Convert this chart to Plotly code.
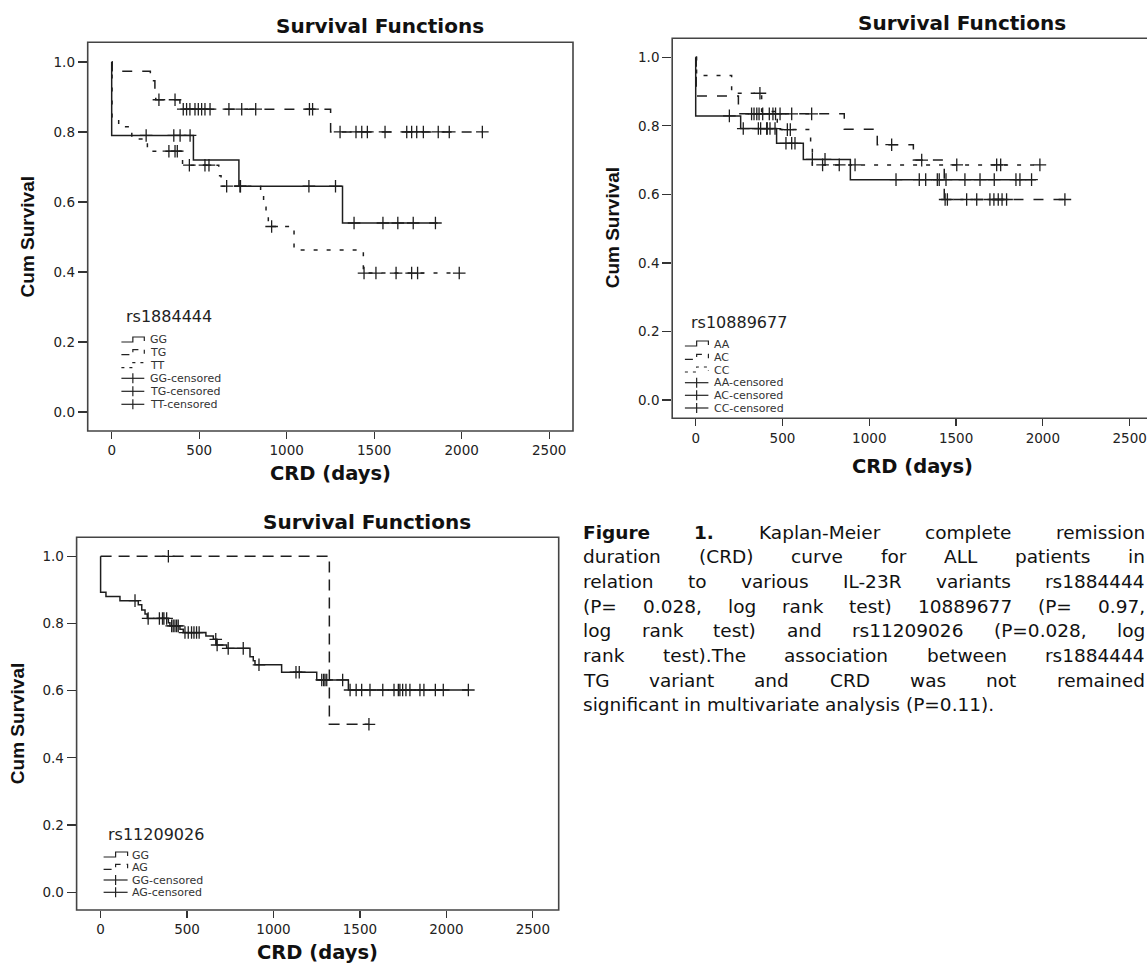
import plotly.graph_objects as go

W, H = 1147, 965

# ================= DATA =================
# Panel 1: rs1884444
p1_GG_event_days = [0, 467, 727, 1319]
p1_GG_surv = [0.79, 0.72, 0.645, 0.54]
p1_GG_censor_days = [197, 355, 391, 448, 736, 1127, 1279, 1385, 1550, 1635, 1723, 1850]
p1_GG_end = 1862

p1_TG_event_days = [3, 221, 247, 252, 390, 1251]
p1_TG_surv = [0.973, 0.946, 0.919, 0.892, 0.865, 0.80]
p1_TG_censor_days = [270, 362, 409, 428, 447, 476, 495, 514, 533, 562, 670, 743, 823, 1130,
                     1148, 1305, 1396, 1429, 1461, 1562, 1686, 1714, 1743, 1781, 1866, 1929, 2118]
p1_TG_end = 2118

p1_TT_event_days = [2, 40, 115, 204, 405, 612, 625, 851, 868, 882, 895, 1042, 1438]
p1_TT_surv = [0.842, 0.815, 0.78, 0.745, 0.705, 0.675, 0.645, 0.615, 0.585, 0.558, 0.53, 0.463, 0.397]
p1_TT_censor_days = [327, 362, 375, 444, 533, 556, 657, 733, 914, 1442, 1510, 1625, 1714, 1748, 1986]
p1_TT_end = 1986

# Panel 2: rs10889677
p2_AA_event_days = [0, 259, 466, 620, 891]
p2_AA_surv = [0.829, 0.792, 0.749, 0.702, 0.643]
p2_AA_censor_days = [194, 274, 361, 374, 409, 412, 428, 457, 520, 553, 572, 672, 745, 1154, 1288,
                     1325, 1392, 1403, 1442, 1551, 1638, 1720, 1845, 1868, 1935]
p2_AA_end = 1960

p2_AC_event_days = [3, 246, 856, 1046, 1254, 1432]
p2_AC_surv = [0.887, 0.835, 0.79, 0.745, 0.70, 0.585]
p2_AC_censor_days = [322, 336, 352, 365, 386, 424, 445, 460, 486, 553, 668, 1129, 1302, 1437, 1450,
                     1561, 1619, 1695, 1718, 1743, 1765, 1791, 2127]
p2_AC_end = 2127

p2_CC_event_days = [5, 207, 380, 470, 662, 672]
p2_CC_surv = [0.947, 0.895, 0.842, 0.789, 0.737, 0.686]
p2_CC_censor_days = [370, 528, 545, 731, 827, 918, 1504, 1734, 1757, 1983]
p2_CC_end = 1983

# Panel 3: rs11209026
p3_GG_event_days = [0, 31, 112, 218, 238, 257, 270, 392, 401, 459, 478, 609, 652, 671, 729, 864,
                    883, 893, 1047, 1250, 1433]
p3_GG_surv = [0.893, 0.88, 0.868, 0.856, 0.84, 0.828, 0.815, 0.802, 0.793, 0.783, 0.773, 0.763,
              0.753, 0.736, 0.726, 0.701, 0.689, 0.677, 0.655, 0.632, 0.602]
p3_GG_censor_days = [199, 275, 340, 358, 366, 382, 411, 420, 430, 440, 449, 488, 507, 526, 540, 555,
                     570, 666, 674, 738, 825, 916, 1130, 1149, 1279, 1290, 1298, 1308, 1400, 1443,
                     1478, 1510, 1558, 1632, 1697, 1722, 1731, 1747, 1766, 1789, 1847, 1870, 1936,
                     1982, 2127]
p3_GG_end = 2127

p3_AG_event_days = [1323]
p3_AG_surv = [0.5]
p3_AG_censor_days = [392, 1552]
p3_AG_end = 1552

x_tick_vals = [0, 500, 1000, 1500, 2000, 2500]
y_tick_vals = [0.0, 0.2, 0.4, 0.6, 0.8, 1.0]
y_tick_text = ["0.0", "0.2", "0.4", "0.6", "0.8", "1.0"]

p1_legend_title = "rs1884444"
p1_legend_labels = ["GG", "TG", "TT", "GG-censored", "TG-censored", "TT-censored"]
p2_legend_title = "rs10889677"
p2_legend_labels = ["AA", "AC", "CC", "AA-censored", "AC-censored", "CC-censored"]
p3_legend_title = "rs11209026"
p3_legend_labels = ["GG", "AG", "GG-censored", "AG-censored"]

caption_lines = [
    "Figure 1. Kaplan-Meier complete remission",
    "duration (CRD) curve for ALL patients in",
    "relation to various IL-23R variants rs1884444",
    "(P= 0.028, log rank test) 10889677 (P= 0.97,",
    "log rank test) and rs11209026 (P=0.028, log",
    "rank test).The association between rs1884444",
    "TG variant and CRD was not remained",
    "significant in multivariate analysis (P=0.11).",
]
caption_bold_words = ["Figure", "1."]

# ================= HELPERS =================
def fx(px):
    return px / W

def fy(py):
    return 1 - py / H

def step_xy(ev, sv, end):
    return [0] + list(ev) + [end], [1.0] + list(sv) + [sv[-1]]

def surv_at(t, ev, sv):
    s = 1.0
    for e, v in zip(ev, sv):
        if e <= t:
            s = v
    return s

LINE_COL = "#1e1e1e"
DASH_LONG = "10px,10px"
DASH_SHORT = "4px,9px"

fig = go.Figure()

def add_series(ev, sv, end, cens, dash, xa, ya):
    x, y = step_xy(ev, sv, end)
    fig.add_trace(go.Scatter(x=x, y=y, mode="lines", line=dict(shape="hv", color=LINE_COL, width=1.5, dash=dash),
                             xaxis=xa, yaxis=ya, showlegend=False, hoverinfo="skip"))
    cy = [surv_at(t, ev, sv) for t in cens]
    fig.add_trace(go.Scatter(x=cens, y=cy, mode="markers",
                             marker=dict(symbol="cross-thin", size=9, line=dict(width=1.3, color=LINE_COL)),
                             xaxis=xa, yaxis=ya, showlegend=False, hoverinfo="skip"))

add_series(p1_GG_event_days, p1_GG_surv, p1_GG_end, p1_GG_censor_days, "solid", "x", "y")
add_series(p1_TG_event_days, p1_TG_surv, p1_TG_end, p1_TG_censor_days, DASH_LONG, "x", "y")
add_series(p1_TT_event_days, p1_TT_surv, p1_TT_end, p1_TT_censor_days, DASH_SHORT, "x", "y")

add_series(p2_AA_event_days, p2_AA_surv, p2_AA_end, p2_AA_censor_days, "solid", "x2", "y2")
add_series(p2_AC_event_days, p2_AC_surv, p2_AC_end, p2_AC_censor_days, DASH_LONG, "x2", "y2")
add_series(p2_CC_event_days, p2_CC_surv, p2_CC_end, p2_CC_censor_days, DASH_SHORT, "x2", "y2")

add_series(p3_GG_event_days, p3_GG_surv, p3_GG_end, p3_GG_censor_days, "solid", "x3", "y3")
add_series(p3_AG_event_days, p3_AG_surv, p3_AG_end, p3_AG_censor_days, "11px,7px", "x3", "y3")

TICKFONT = dict(family="DejaVu Sans", size=13.5, color="#222")

def xaxis(dom, rng, anchor):
    return dict(domain=dom, range=rng, anchor=anchor, showgrid=False, zeroline=False, showline=False,
                ticks="outside", ticklen=7, tickwidth=1.2, tickcolor="#333", tickvals=x_tick_vals,
                tickfont=TICKFONT)

def yaxis(dom, rng, anchor):
    return dict(domain=dom, range=rng, anchor=anchor, showgrid=False, zeroline=False, showline=False,
                ticks="outside", ticklen=9, tickwidth=1.2, tickcolor="#333", tickvals=y_tick_vals,
                ticktext=y_tick_text, tickfont=TICKFONT)

panels = [
    dict(box=(87.7, 42.3, 573, 431), xr=[-137, 2636], yr=[-0.054, 1.056], title_x=380, title_y=25.7,
         ytitle_x=27.8, xtitle_y=473, dom_right=573),
    dict(box=(672.2, 38.3, 1153, 418.3), xr=[-135.4, 2600], yr=[-0.0534, 1.0554], title_x=962, title_y=22.7,
         ytitle_x=612, xtitle_y=466.7, dom_right=1147),
    dict(box=(76.6, 537.3, 558.7, 910), xr=[-138.8, 2649.5], yr=[-0.0527, 1.0565], title_x=367, title_y=521.7,
         ytitle_x=17.5, xtitle_y=952, dom_right=558.7),
]

layout_axes = {}
shapes = []
annotations = []
for i, p in enumerate(panels):
    l, t, r, b = p["box"]
    sfx = "" if i == 0 else str(i + 1)
    layout_axes["xaxis" + sfx] = xaxis([fx(l), fx(p["dom_right"])], p["xr"], "y" + sfx)
    layout_axes["yaxis" + sfx] = yaxis([fy(b), fy(t)], p["yr"], "x" + sfx)
    shapes.append(dict(type="rect", xref="paper", yref="paper", x0=fx(l), x1=fx(r), y0=fy(b), y1=fy(t),
                       line=dict(color="#444", width=1.6), fillcolor="rgba(0,0,0,0)", layer="above"))
    annotations.append(dict(text="Survival Functions", x=fx(p["title_x"]), y=fy(p["title_y"]), xref="paper",
                            yref="paper", showarrow=False, xanchor="center", yanchor="middle",
                            font=dict(family="DejaVu Sans", size=20, color="#111", weight="bold")))
    annotations.append(dict(text="CRD (days)", x=fx((l + r) / 2), y=fy(p["xtitle_y"]), xref="paper",
                            yref="paper", showarrow=False, xanchor="center", yanchor="middle",
                            font=dict(family="DejaVu Sans", size=19.5, color="#111", weight="bold")))
    annotations.append(dict(text="Cum Survival", x=fx(p["ytitle_x"]), y=fy((t + b) / 2), xref="paper",
                            yref="paper", showarrow=False, xanchor="center", yanchor="middle", textangle=-90,
                            font=dict(family="Liberation Sans", size=19, color="#111", weight="bold")))

# ---------- legends (drawn like SPSS legend boxes) ----------
def legend(title, title_x, title_y, labels, item_ys, gx0, gx1, tx, kinds):
    annotations.append(dict(text=title, x=fx(title_x), y=fy(title_y), xref="paper", yref="paper",
                            showarrow=False, xanchor="left", yanchor="middle",
                            font=dict(family="DejaVu Sans", size=16, color="#222")))
    for lab, yy, kind in zip(labels, item_ys, kinds):
        if kind in ("solid", "long", "short"):
            dash = {"solid": "solid", "long": "8px,6px", "short": "3px,5px"}[kind]
            xm = gx0 + (gx1 - gx0) * 0.5
            path = "M {} {} L {} {} L {} {} L {} {} L {} {}".format(
                fx(gx0), fy(yy + 2), fx(xm), fy(yy + 2), fx(xm), fy(yy - 3), fx(gx1), fy(yy - 3), fx(gx1), fy(yy + 1))
            shapes.append(dict(type="path", xref="paper", yref="paper", path=path,
                               line=dict(color="#222", width=1.2, dash=dash)))
        else:
            shapes.append(dict(type="line", xref="paper", yref="paper", x0=fx(gx0), x1=fx(gx1), y0=fy(yy), y1=fy(yy),
                               line=dict(color="#222", width=1.2)))
            xc = (gx0 + gx1) / 2
            shapes.append(dict(type="line", xref="paper", yref="paper", x0=fx(xc), x1=fx(xc), y0=fy(yy - 5),
                               y1=fy(yy + 5), line=dict(color="#222", width=1.2)))
        annotations.append(dict(text=lab, x=fx(tx), y=fy(yy), xref="paper", yref="paper", showarrow=False,
                                xanchor="left", yanchor="middle",
                                font=dict(family="DejaVu Sans", size=11, color="#333")))

legend(p1_legend_title, 124, 316, p1_legend_labels, [340, 352.7, 365.7, 378.3, 391.3, 404.3], 121.4, 144.3, 148,
       ["solid", "long", "short", "c", "c", "c"])
legend(p2_legend_title, 688.5, 322.7, p2_legend_labels, [344, 357.3, 370, 382.7, 395.3, 408], 684.9, 708.4, 712,
       ["solid", "long", "short", "c", "c", "c"])
legend(p3_legend_title, 105.5, 834, p3_legend_labels, [855, 867.3, 880, 892.3], 103.6, 127.6, 129.5,
       ["solid", "long", "c", "c"])

# ---------- caption (justified) ----------
REG = {" ": .318, "!": .401, "(": .390, ")": .390, ",": .318, "-": .361, ".": .318, "=": .838,
       "A": .684, "C": .698, "D": .770, "G": .776, "I": .295, "K": .656, "L": .557, "M": .863,
       "P": .603, "R": .695, "T": .611, "a": .613, "b": .635, "c": .550, "d": .635, "e": .615,
       "f": .352, "g": .635, "h": .634, "i": .278, "k": .579, "l": .278, "m": .974, "n": .634,
       "o": .612, "p": .635, "r": .411, "s": .521, "t": .392, "u": .634, "v": .592, "w": .818,
       "y": .592}
BOLD = {"F": .683, "i": .343, "g": .716, "u": .712, "r": .493, "e": .678, "1": .696, ".": .381}
CAP_SIZE = 18.5
CAP_L, CAP_R = 583, 1145
CAP_Y0, CAP_DY = 532, 24.7

def wwidth(word, bold):
    tbl = BOLD if bold else REG
    return sum(tbl.get(c, .636 if c.isdigit() else .6) for c in word) * CAP_SIZE

for li, line in enumerate(caption_lines):
    words = line.split(" ")
    bolds = [li == 0 and w in caption_bold_words for w in words]
    widths = [wwidth(w, b) for w, b in zip(words, bolds)]
    yy = CAP_Y0 + li * CAP_DY
    last = li == len(caption_lines) - 1
    if last:
        gap = REG[" "] * CAP_SIZE
    else:
        gap = (CAP_R - CAP_L - sum(widths)) / (len(words) - 1)
    x = CAP_L
    for wi, (w, b, ww) in enumerate(zip(words, bolds, widths)):
        if (not last) and wi == len(words) - 1:
            ax, anc = CAP_R, "right"
        else:
            ax, anc = x, "left"
        annotations.append(dict(text=w, x=fx(ax), y=fy(yy), xref="paper", yref="paper", showarrow=False,
                                xanchor=anc, yanchor="middle", borderpad=0, borderwidth=0,
                                font=dict(family="DejaVu Sans", size=CAP_SIZE, color="#111",
                                          weight="bold" if b else "normal")))
        x += ww + gap

fig.update_layout(width=W, height=H, margin=dict(l=0, r=0, t=0, b=0), paper_bgcolor="white",
                  plot_bgcolor="white", showlegend=False, shapes=shapes, annotations=annotations,
                  hovermode=False, **layout_axes)

fig.write_html("out.html", config={"displayModeBar": False, "staticPlot": True},
               post_script="document.body.style.margin='0';document.body.style.overflow='hidden';")
